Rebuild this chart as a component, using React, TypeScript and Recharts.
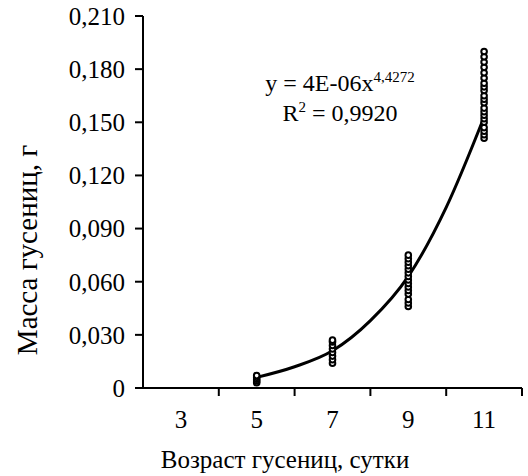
import { ComposedChart, Scatter, Line, XAxis, YAxis } from "recharts";

const day5 = [0.003, 0.004, 0.005, 0.006, 0.007];
const day7 = [0.014, 0.016, 0.018, 0.02, 0.022, 0.024, 0.026, 0.027];
const day9 = [
  0.046, 0.048, 0.05, 0.053, 0.055, 0.057, 0.059, 0.061, 0.063, 0.065, 0.067, 0.069, 0.071,
  0.073, 0.075,
];
const day11 = [
  0.141, 0.143, 0.145, 0.147, 0.15, 0.152, 0.154, 0.156, 0.158, 0.161, 0.163, 0.165, 0.168,
  0.17, 0.172, 0.175, 0.178, 0.181, 0.184, 0.187, 0.19,
];

// trend line
const trendX = [5, 6, 7, 8, 9, 10, 11];
const trendY = [0.006, 0.012, 0.021, 0.038, 0.063, 0.102, 0.153];

const xTicks = [3, 4, 5, 6, 7, 8, 9, 10, 11, 12];
const yTicks = [0, 0.03, 0.06, 0.09, 0.12, 0.15, 0.18, 0.21];

const FONT = "'Liberation Serif', 'Times New Roman', serif";

const points = [
  ...day5.map((y) => ({ x: 5, y })),
  ...day7.map((y) => ({ x: 7, y })),
  ...day9.map((y) => ({ x: 9, y })),
  ...day11.map((y) => ({ x: 11, y })),
];
const trend = trendX.map((x, i) => ({ x, y: trendY[i] }));

const fmtY = (v: number) => (v === 0 ? "0" : v.toFixed(3).replace(".", ","));

function XTick({ x, y, payload }: any) {
  const v = payload.value;
  if (v % 2 === 0) {
    return <line x1={x} x2={x} y1={y} y2={y + 8} stroke="#000" strokeWidth={2} />;
  }
  return (
    <text x={x} y={y + 40} textAnchor="middle" fontSize={25} fontFamily={FONT} fill="#000">
      {v}
    </text>
  );
}

function Dot({ cx, cy }: any) {
  return <circle cx={cx} cy={cy} r={2.8} fill="#fff" stroke="#000" strokeWidth={2} />;
}

export default function App() {
  return (
    <div style={{ position: "absolute", left: 0, top: 0, width: 528, height: 476, background: "#fff" }}>
      <ComposedChart width={528} height={476} margin={{ top: 16, right: 6, left: 0, bottom: 0 }}>
        <XAxis
          dataKey="x"
          type="number"
          domain={[2, 12]}
          ticks={xTicks}
          interval={0}
          tickSize={0}
          tickMargin={0}
          tickLine={false}
          tick={<XTick />}
          height={88}
          axisLine={{ stroke: "#000", strokeWidth: 2 }}
          label={{
            content: () => (
              <text x={285} y={468} textAnchor="middle" fontSize={25} fontFamily={FONT} fill="#000">
                Возраст гусениц, сутки
              </text>
            ),
          }}
        />
        <YAxis
          type="number"
          domain={[0, 0.21]}
          ticks={yTicks}
          interval={0}
          width={143}
          tickFormatter={fmtY}
          tickSize={8}
          tickMargin={10}
          tick={{ fontSize: 25, fontFamily: FONT, fill: "#000" }}
          tickLine={{ stroke: "#000", strokeWidth: 2 }}
          axisLine={{ stroke: "#000", strokeWidth: 2 }}
          label={{
            content: () => (
              <text
                transform="translate(27,250) rotate(-90)"
                textAnchor="middle"
                dominantBaseline="central"
                fontSize={29}
                fontFamily={FONT}
                fill="#000"
              >
                Масса гусениц, г
              </text>
            ),
          }}
        />
        <Scatter data={points} dataKey="y" shape={<Dot />} isAnimationActive={false} />
        <Line
          data={trend}
          dataKey="y"
          type="monotone"
          stroke="#000"
          strokeWidth={3}
          dot={false}
          activeDot={false}
          isAnimationActive={false}
        />
      </ComposedChart>
      <div
        style={{
          position: "absolute",
          left: 240,
          top: 68,
          width: 200,
          textAlign: "center",
          fontFamily: FONT,
          fontSize: 24,
          lineHeight: "30px",
          color: "#000",
        }}
      >
        <div>
          y = 4E-06x<sup style={{ fontSize: 15, verticalAlign: "9px", lineHeight: 0 }}>4,4272</sup>
        </div>
        <div>
          R<sup style={{ fontSize: 15, verticalAlign: "9px", lineHeight: 0 }}>2</sup> = 0,9920
        </div>
      </div>
    </div>
  );
}
